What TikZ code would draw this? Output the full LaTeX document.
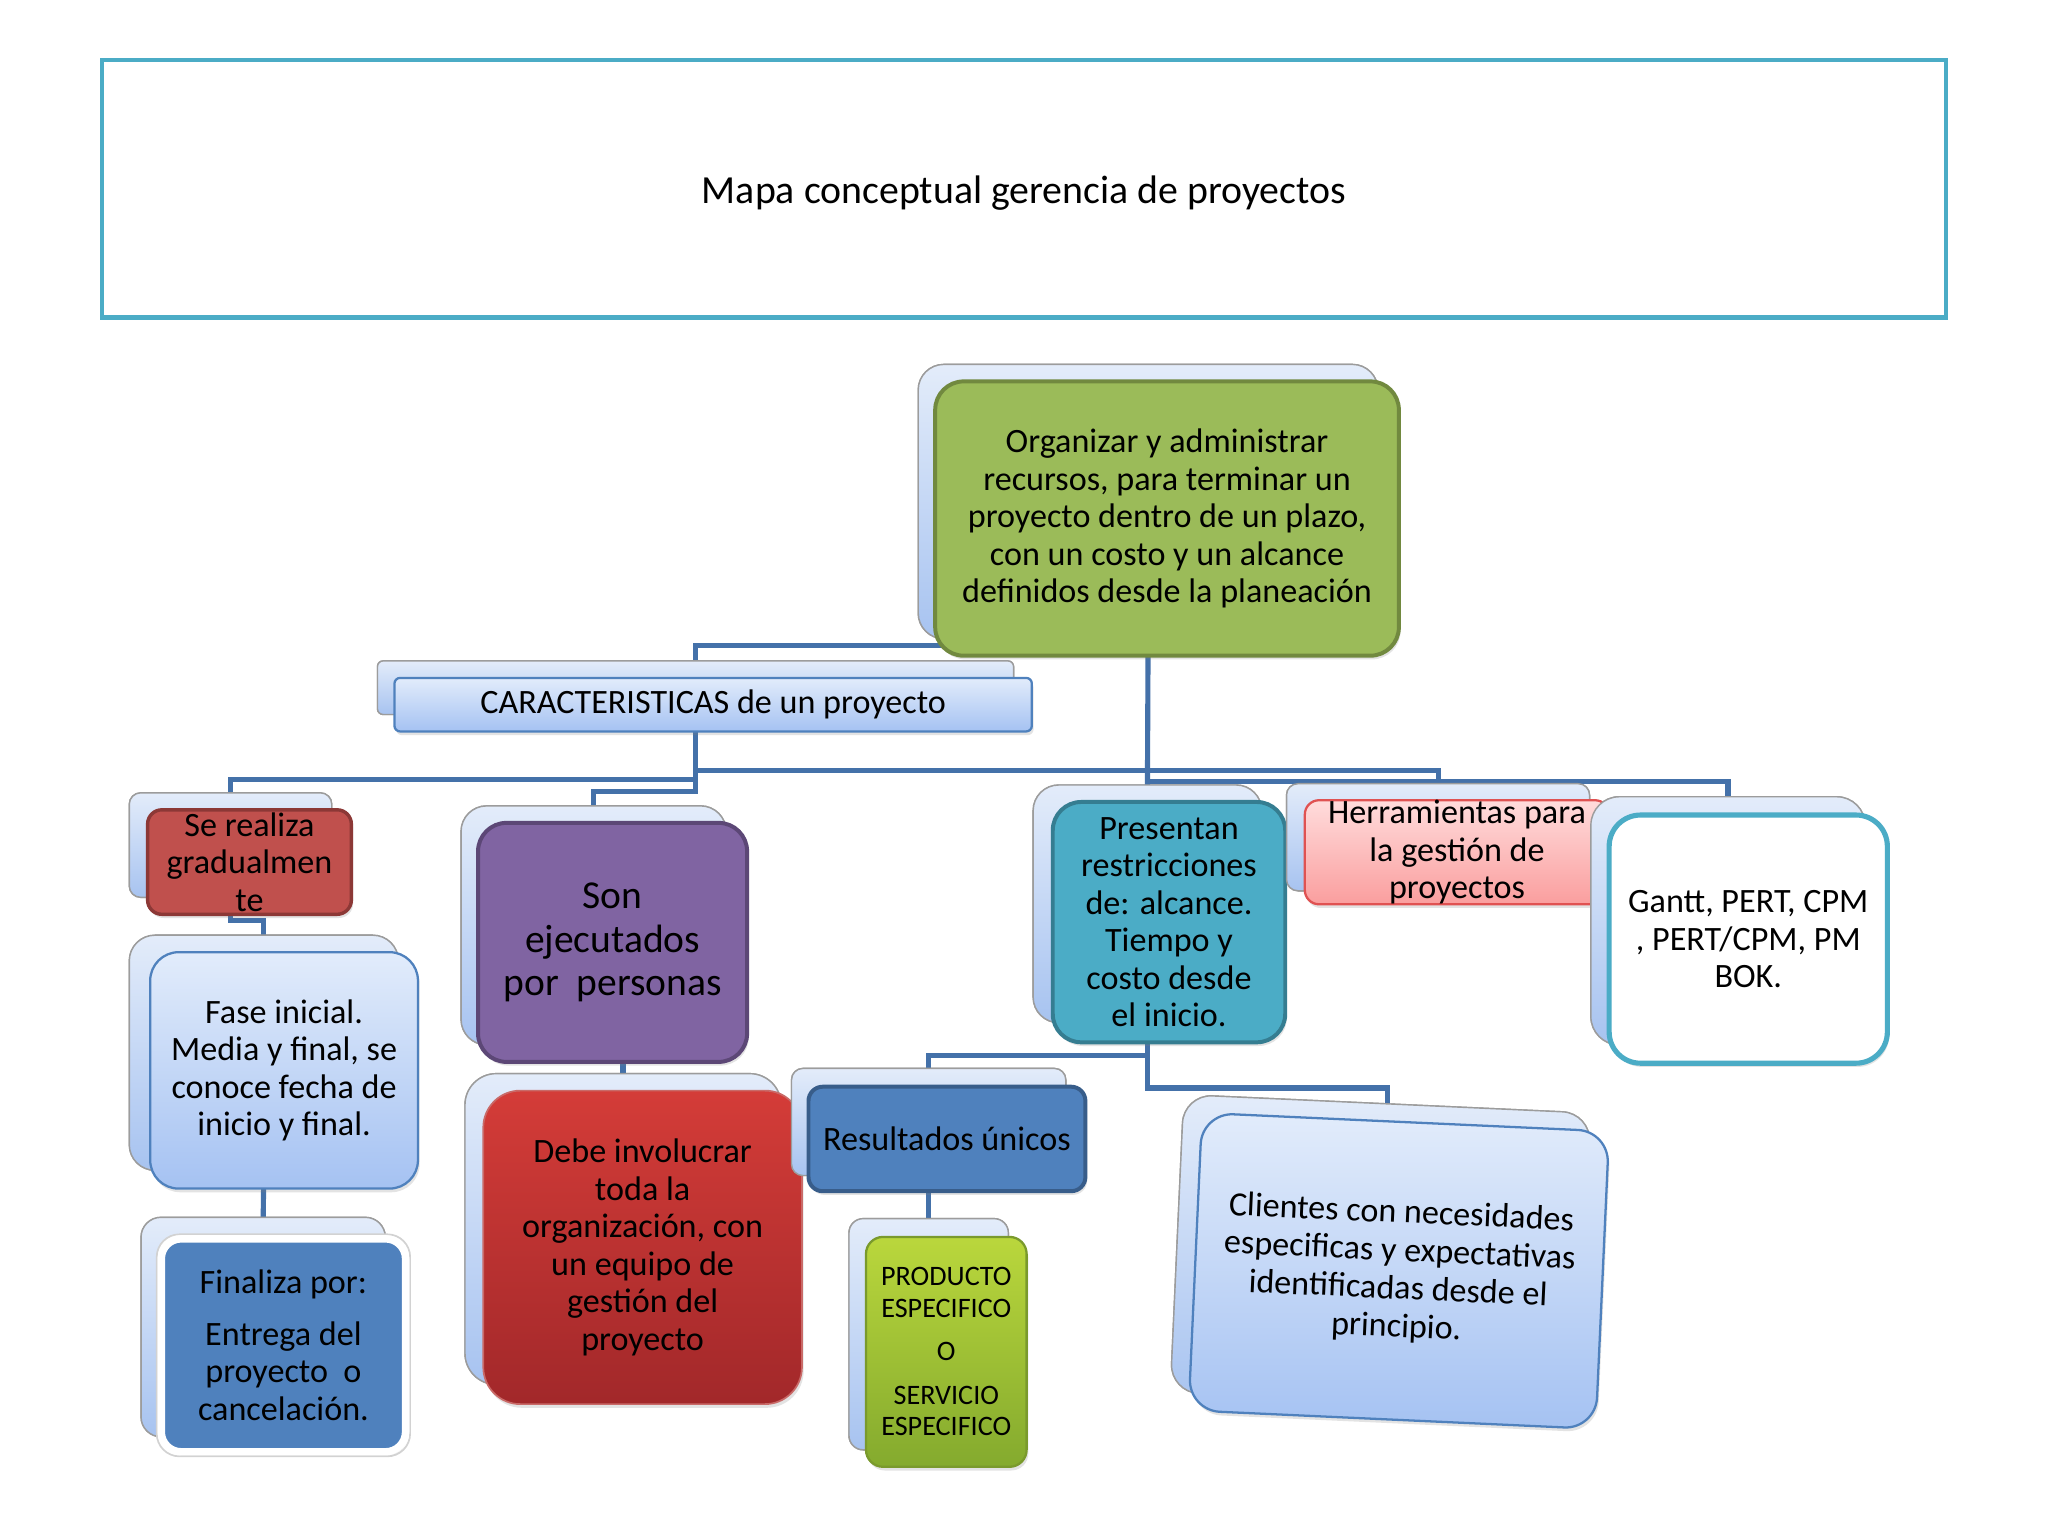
\documentclass[tikz,border=0pt]{standalone}
\usepackage{fontspec}
\setmainfont{Carlito}
\usetikzlibrary{shadows}
\definecolor{connC}{HTML}{4471A9}
\definecolor{titleC}{HTML}{4BACC6}
\definecolor{greenF}{HTML}{9BBB59}
\definecolor{greenD}{HTML}{71893F}
\definecolor{redF}{HTML}{C0504D}
\definecolor{redD}{HTML}{8C3836}
\definecolor{purpF}{HTML}{8064A2}
\definecolor{purpD}{HTML}{5C4776}
\definecolor{tealF}{HTML}{4BACC6}
\definecolor{tealD}{HTML}{357D91}
\definecolor{blueF}{HTML}{4F81BD}
\definecolor{blueD}{HTML}{385D8A}
\definecolor{cardT}{HTML}{E3ECFA}
\definecolor{cardB}{HTML}{A7C3F0}
\definecolor{cardE}{HTML}{9C9C9C}
\definecolor{lbT}{HTML}{E2ECFB}
\definecolor{lbB}{HTML}{A5C2F2}
\definecolor{debeT}{HTML}{D43C38}
\definecolor{debeB}{HTML}{A2282A}
\definecolor{limeT}{HTML}{BAD73C}
\definecolor{limeB}{HTML}{84AA2E}
\definecolor{limeD}{HTML}{7A9A2C}
\definecolor{pinkT}{HTML}{FFDCDC}
\definecolor{pinkB}{HTML}{FA9E9E}
\definecolor{pinkD}{HTML}{E05252}
\begin{document}
\begin{tikzpicture}[x=0.4592pt,y=-0.4592pt,
  wh/.style 2 args={minimum width=#1*0.4592pt,minimum height=#2*0.4592pt,inner sep=0pt,outer sep=0pt},
  card/.style={draw=cardE,line width=0.5pt,top color=cardT,bottom color=cardB},
  front/.style={align=center,text=black,font=\fontsize{12}{13.2}\selectfont,
    drop shadow={opacity=0.22,shadow xshift=0.6pt,shadow yshift=-1.3pt}},
  conn/.style={draw=connC,line width=1.8pt},
  lightbox/.style={front,draw=blueF,line width=0.8pt,top color=lbT,bottom color=lbB}
]
\useasboundingbox[fill=white] (0,0) rectangle (1568,1176);

% title
\node[draw=titleC,line width=1.6pt,wh={1412}{197}] (title) at (784,144.5) {};
\node[font=\fontsize{14}{17}\selectfont,inner sep=0pt] (titletext) at (784,148) {Mapa conceptual gerencia de proyectos};

% back cards (named, used by connectors)
\node[card,wh={352}{210},rounded corners=9pt] (greenB) at (879,384) {};
\node[card,wh={487}{41},rounded corners=2pt] (caractB) at (532.5,526.5) {};
\node[card,wh={155}{80},rounded corners=4pt] (seB) at (176.5,647) {};
\node[card,wh={206}{180},rounded corners=9pt] (faseB) at (202,806) {};
\node[card,wh={187}{168},rounded corners=7pt] (finB) at (201.5,1016) {};
\node[card,wh={203}{183},rounded corners=9pt] (sonB) at (454.5,708.5) {};
\node[card,wh={242}{238},rounded corners=11pt] (debeB) at (477,941) {};
\node[card,wh={210}{82},rounded corners=4pt] (resB) at (711,859) {};
\node[card,wh={122}{177},rounded corners=5pt] (prodB) at (711,1021.5) {};
\node[card,wh={175}{182},rounded corners=9pt] (presB) at (878.5,692) {};
\node[card,wh={232}{82},rounded corners=4pt] (herrB) at (1101,641) {};
\node[card,wh={210}{190},rounded corners=10pt] (ganttB) at (1323,705) {};
\node[card,wh={312}{228},rounded corners=10pt,rotate=-2.6] (cliB) at (1057,959) {};

% connectors
\draw[conn] (greenB.south) -- (greenB.south |- 0,494) -| (caractB.north);
\draw[conn] (greenB.south) -- (presB.north);
\draw[conn] (caractB.south) -- (caractB.south |- 0,606) -| (sonB.north);
\draw[conn] (caractB.south |- 0,590) -| (herrB.north);
\draw[conn] (caractB.south |- 0,597) -| (seB.north);
\draw[conn] (greenB.south |- 0,598) -| (ganttB.north);
\draw[conn] (seB.south) -- (seB.south |- 0,705) -| (faseB.north);
\draw[conn] (faseB.south) -- (finB.north);
\draw[conn] (sonB.south) -- (sonB.south |- 0,811) -| (debeB.north);
\draw[conn] (presB.south) -- (presB.south |- 0,808) -| (resB.north);
\draw[conn] (presB.south) -- (presB.south |- 0,833) -| (cliB.north);
\draw[conn] (resB.south) -- (prodB.north);

% ---------- boxes ----------
\node[card,wh={352}{210},rounded corners=9pt] at (greenB) {};
\node[front,draw=greenD,line width=1.4pt,fill=greenF,wh={355}{210},rounded corners=10pt] (green) at (893.5,397) {Organizar y administrar\\recursos, para terminar un\\proyecto dentro de un plazo,\\con un costo y un alcance\\definidos desde la planeación};

\node[card,wh={487}{41},rounded corners=2pt] at (caractB) {};
\node[lightbox,wh={488}{41},rounded corners=2pt] (caract) at (546,539.5) {CARACTERISTICAS de un proyecto};

\node[card,wh={155}{80},rounded corners=4pt] at (seB) {};
\node[front,draw=redD,line width=1.2pt,fill=redF,wh={156}{80},rounded corners=5pt] (se) at (191,660) {Se realiza\\gradualmen\\te};

\node[card,wh={206}{180},rounded corners=9pt] at (faseB) {};
\node[lightbox,wh={205}{181},rounded corners=10pt] (fase) at (217.5,819.5) {Fase inicial.\\Media y final, se\\conoce fecha de\\inicio y final.};

\node[card,wh={187}{168},rounded corners=7pt] at (finB) {};
\node[draw=gray!35,line width=0.6pt,fill=white,wh={194}{170},rounded corners=8pt] (finRim) at (217,1030) {};
\node[front,draw=white,line width=2.6pt,fill=blueF,wh={187}{163},rounded corners=7pt] (fin) at (217,1030) {Finaliza por:\\[5pt]Entrega del\\proyecto~~o\\cancelación.};

\node[card,wh={203}{183},rounded corners=9pt] at (sonB) {};
\node[front,draw=purpD,line width=1.4pt,fill=purpF,wh={206}{183},rounded corners=10pt,font=\fontsize{13.9}{15.4}\selectfont] (son) at (469,721.5) {Son\\ejecutados\\por~~personas};

\node[card,wh={242}{238},rounded corners=11pt] at (debeB) {};
\node[front,draw=redF!85!white,line width=0.6pt,top color=debeT,bottom color=debeB,wh={244}{240},rounded corners=13pt] (debe) at (492,955) {Debe involucrar\\toda la\\organización, con\\un equipo de\\gestión del\\proyecto};

\node[card,wh={210}{82},rounded corners=4pt] at (resB) {};
\node[front,draw=blueD,line width=1.4pt,fill=blueF,wh={212}{80},rounded corners=5pt] (res) at (725,872) {Resultados únicos};

\node[card,wh={122}{177},rounded corners=5pt] at (prodB) {};
\node[front,draw=limeD,line width=0.8pt,top color=limeT,bottom color=limeB,wh={123}{176},rounded corners=6pt,font=\fontsize{9.9}{11}\selectfont] (prod) at (724.5,1035) {PRODUCTO\\ESPECIFICO\\[4.4pt]O\\[4.4pt]SERVICIO\\ESPECIFICO};

\node[card,wh={175}{182},rounded corners=9pt] at (presB) {};
\node[front,draw=tealD,line width=1.4pt,fill=tealF,wh={178}{184},rounded corners=10pt] (pres) at (895,706) {Presentan\\restricciones\\de: alcance.\\Tiempo y\\costo desde\\el inicio.};

\node[card,wh={232}{82},rounded corners=4pt] at (herrB) {};
\node[front,draw=pinkD,line width=0.8pt,top color=pinkT,bottom color=pinkB,wh={233}{79},rounded corners=5pt] (herr) at (1115.5,652.5) {Herramientas para\\la gestión de\\proyectos};

\node[card,wh={210}{190},rounded corners=10pt] at (ganttB) {};
\node[front,draw=tealF,line width=1.8pt,fill=white,wh={213}{190},rounded corners=11pt] (gantt) at (1338.5,719) {Gantt, PERT, CPM\\, PERT/CPM, PM\\BOK.};

\node[card,wh={312}{228},rounded corners=10pt,rotate=-2.6] at (cliB) {};
\node[lightbox,wh={312}{228},rounded corners=11pt,rotate=-2.6,font=\fontsize{12}{13.4}\selectfont] (cli) at (1071,973) {Clientes con necesidades\\especificas y expectativas\\identificadas desde el\\principio.};
\end{tikzpicture}
\end{document}
